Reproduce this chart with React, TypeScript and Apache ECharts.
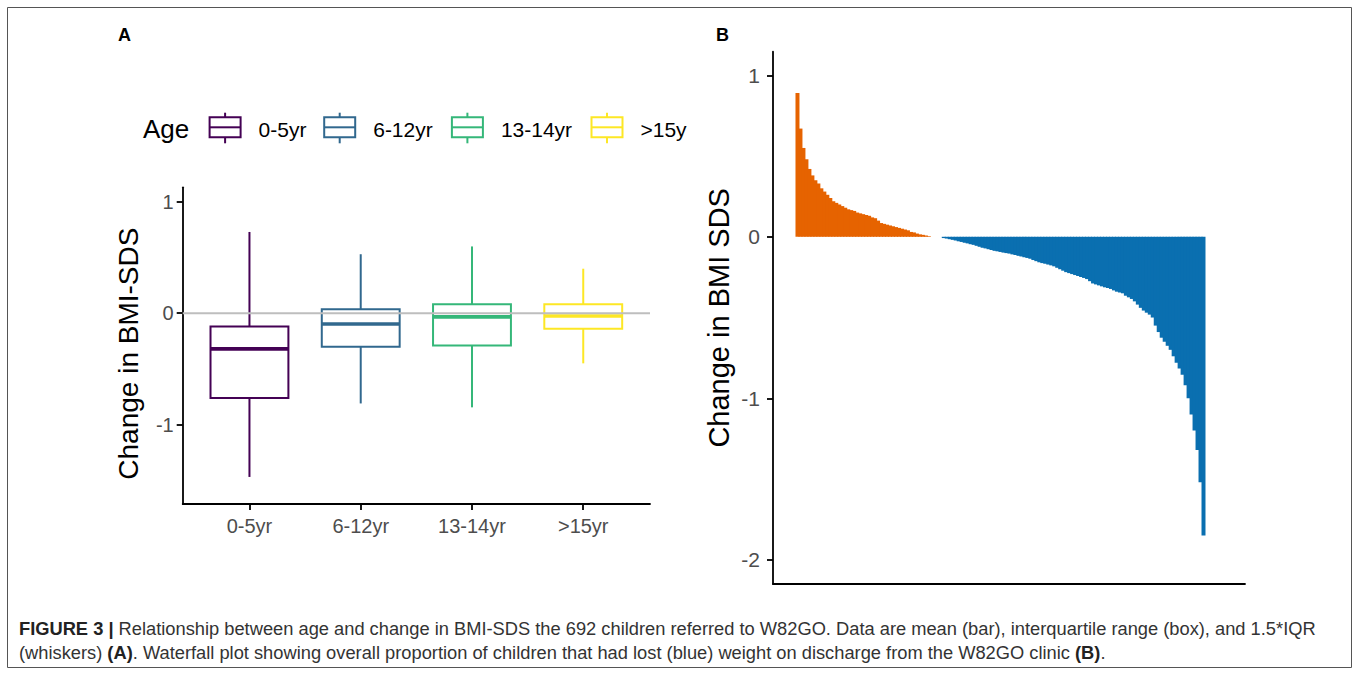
import React, { useEffect, useRef } from "react";
import * as echarts from "echarts";

// ---------- Panel A data ----------
const ageGroups = ["0-5yr", "6-12yr", "13-14yr", ">15yr"];
const legendLabels = ["0-5yr", "6-12yr", "13-14yr", ">15y"];
const ageColors = ["#440154", "#31688E", "#35B779", "#FDE725"];
// [lower whisker, Q1, median, Q3, upper whisker]
const stats0to5 = [-1.47, -0.76, -0.32, -0.12, 0.73];
const stats6to12 = [-0.81, -0.3, -0.096, 0.035, 0.53];
const stats13to14 = [-0.845, -0.29, -0.033, 0.08, 0.6];
const stats15plus = [-0.45, -0.14, -0.025, 0.08, 0.4];
const boxStats = [stats0to5, stats6to12, stats13to14, stats15plus];
const panelATicks = [-1, 0, 1];

// ---------- Panel B data (sorted change in BMI SDS) ----------
const gainedValues = [
  0.89, 0.67, 0.55, 0.48, 0.42, 0.38, 0.35, 0.33, 0.3, 0.28,
  0.26, 0.24, 0.22, 0.21, 0.2, 0.19, 0.18, 0.17, 0.165, 0.16,
  0.15, 0.145, 0.14, 0.135, 0.13, 0.12, 0.115, 0.1, 0.085, 0.08,
  0.075, 0.07, 0.065, 0.06, 0.055, 0.05, 0.045, 0.04, 0.03, 0.027,
  0.02, 0.015, 0.012, 0.008, 0.004,
];
const unchangedValues = [0, 0, 0, 0];
const lostValues = [
  -0.008, -0.011, -0.015, -0.019, -0.023, -0.028, -0.032, -0.037, -0.041, -0.046,
  -0.05, -0.056, -0.062, -0.068, -0.072, -0.077, -0.082, -0.087, -0.09, -0.094,
  -0.098, -0.101, -0.104, -0.109, -0.113, -0.118, -0.122, -0.126, -0.131, -0.136,
  -0.144, -0.151, -0.158, -0.163, -0.167, -0.172, -0.177, -0.183, -0.192, -0.201,
  -0.21, -0.219, -0.225, -0.231, -0.237, -0.243, -0.249, -0.255, -0.262, -0.275,
  -0.289, -0.295, -0.301, -0.307, -0.313, -0.317, -0.323, -0.332, -0.34, -0.345,
  -0.35, -0.365, -0.375, -0.385, -0.4, -0.42, -0.44, -0.457, -0.47, -0.482,
  -0.5, -0.55, -0.59, -0.625, -0.65, -0.675, -0.7, -0.74, -0.78, -0.815,
  -0.855, -0.92, -1.0, -1.1, -1.2, -1.32, -1.52, -1.85,
];
const panelBTicks = [-2, -1, 0, 1];
const gainedColor = "#E66300";
const lostColor = "#0A6FB0";

const FONT = "'Liberation Sans', Arial, Helvetica, sans-serif";

// layout constants (pixels)
const legendKeyX = [209.6, 324.2, 451.9, 591.5];

export default function App() {
  const ref = useRef<HTMLDivElement>(null);

  useEffect(() => {
    if (!ref.current) return;
    const chart = echarts.init(ref.current, undefined, { renderer: "svg" });

    const boxSeries = boxStats.map((s, gi) => ({
      type: "custom",
      name: ageGroups[gi],
      xAxisIndex: 0,
      yAxisIndex: 0,
      z: 2,
      data: [[gi + 1, ...s]],
      renderItem: (params: any, api: any) => {
        const x = api.value(0);
        const lo = api.value(1), q1 = api.value(2), med = api.value(3), q3 = api.value(4), hi = api.value(5);
        const half = 0.35;
        const c = api.coord([x, 0]);
        const pLo = api.coord([x, lo]);
        const pHi = api.coord([x, hi]);
        const tl = api.coord([x - half, q3]);
        const br = api.coord([x + half, q1]);
        const pm = api.coord([x, med]);
        const color = ageColors[gi];
        return {
          type: "group",
          children: [
            { type: "line", shape: { x1: c[0], y1: pHi[1], x2: c[0], y2: tl[1] }, style: { stroke: color, lineWidth: 2 } },
            { type: "line", shape: { x1: c[0], y1: br[1], x2: c[0], y2: pLo[1] }, style: { stroke: color, lineWidth: 2 } },
            { type: "rect", shape: { x: tl[0], y: tl[1], width: br[0] - tl[0], height: br[1] - tl[1] }, style: { fill: "none", stroke: color, lineWidth: 2 } },
            { type: "line", shape: { x1: tl[0], y1: pm[1], x2: br[0], y2: pm[1] }, style: { stroke: color, lineWidth: 3.6 } },
          ],
        };
      },
    }));

    // each bar is widened by 1px so neighbouring bars overlap and no seams show
    const barRender = (color: string) => (params: any, api: any) => {
      const i = api.value(0);
      const v = api.value(1);
      const p0 = api.coord([i - 0.5, 0]);
      const p1 = api.coord([i + 0.5, v]);
      return {
        type: "rect",
        shape: {
          x: p0[0] - 0.5,
          y: Math.min(p0[1], p1[1]),
          width: p1[0] - p0[0] + 1,
          height: Math.max(Math.abs(p1[1] - p0[1]), 0.6),
        },
        style: { fill: color },
      };
    };
    const nG = gainedValues.length;
    const nU = unchangedValues.length;

    const legendGraphics: any[] = [];
    legendGraphics.push({
      type: "text", x: 143, y: 129,
      style: { text: "Age", fontSize: 26, fontFamily: FONT, fill: "#000", verticalAlign: "middle", align: "left" },
    });
    legendLabels.forEach((lab, i) => {
      const kx = legendKeyX[i];
      const col = ageColors[i];
      legendGraphics.push({
        type: "group",
        children: [
          { type: "line", shape: { x1: kx + 15.5, y1: 112.7, x2: kx + 15.5, y2: 117.3 }, style: { stroke: col, lineWidth: 2 } },
          { type: "line", shape: { x1: kx + 15.5, y1: 137.3, x2: kx + 15.5, y2: 143.3 }, style: { stroke: col, lineWidth: 2 } },
          { type: "rect", shape: { x: kx, y: 117.3, width: 31, height: 20 }, style: { fill: "none", stroke: col, lineWidth: 2 } },
          { type: "line", shape: { x1: kx, y1: 127.3, x2: kx + 31, y2: 127.3 }, style: { stroke: col, lineWidth: 2 } },
          { type: "text", x: kx + 49, y: 129, style: { text: lab, fontSize: 21, fontFamily: FONT, fill: "#000", verticalAlign: "middle", align: "left" } },
        ],
      });
    });

    const axisLineStyle = { color: "#000", width: 1.8 };

    const option: any = {
      animation: false,
      backgroundColor: "#fff",
      textStyle: { fontFamily: FONT },
      grid: [
        { left: 182.7, top: 187.3, width: 467.3, height: 316.7 },
        { left: 773, top: 51.7, width: 472, height: 532.3 },
      ],
      xAxis: [
        {
          gridIndex: 0, type: "value", min: 0.4, max: 4.6,
          axisLine: { show: true, onZero: false, lineStyle: axisLineStyle },
          axisTick: { show: true, customValues: [1, 2, 3, 4], length: 6, lineStyle: axisLineStyle },
          axisLabel: {
            customValues: [1, 2, 3, 4], formatter: (v: number) => ageGroups[Math.round(v) - 1] || "",
            color: "#4D4D4D", fontSize: 20, margin: 12, fontFamily: FONT,
          },
          splitLine: { show: false },
        },
        {
          gridIndex: 1, type: "value", min: -8.2, max: 149.9,
          axisLine: { show: true, onZero: false, lineStyle: axisLineStyle },
          axisTick: { show: false }, axisLabel: { show: false }, splitLine: { show: false },
        },
      ],
      yAxis: [
        {
          gridIndex: 0, type: "value", min: -1.713, max: 1.131,
          name: "Change in BMI-SDS", nameLocation: "middle", nameGap: 40,
          nameTextStyle: { fontSize: 28, color: "#000", fontFamily: FONT, padding: [0, 16, 0, 0] },
          axisLine: { show: true, onZero: false, lineStyle: axisLineStyle },
          axisTick: { show: true, customValues: panelATicks, length: 6, lineStyle: axisLineStyle },
          axisLabel: { customValues: panelATicks, color: "#4D4D4D", fontSize: 20, margin: 9, fontFamily: FONT },
          splitLine: { show: false },
        },
        {
          gridIndex: 1, type: "value", min: -2.15, max: 1.146,
          name: "Change in BMI SDS", nameLocation: "middle", nameGap: 40,
          nameTextStyle: { fontSize: 29, color: "#000", fontFamily: FONT },
          axisLine: { show: true, onZero: false, lineStyle: axisLineStyle },
          axisTick: { show: true, customValues: panelBTicks, length: 6, lineStyle: axisLineStyle },
          axisLabel: { customValues: panelBTicks, color: "#4D4D4D", fontSize: 21, margin: 13, fontFamily: FONT },
          splitLine: { show: false },
        },
      ],
      series: [
        ...boxSeries,
        {
          type: "line", name: "zero", xAxisIndex: 0, yAxisIndex: 0, z: 5,
          symbol: "none", silent: true,
          data: [[0.4, 0], [4.6, 0]],
          lineStyle: { color: "#BEBEBE", width: 2 },
        },
        {
          type: "custom", name: "Gained", xAxisIndex: 1, yAxisIndex: 1,
          data: gainedValues.map((v, i) => [i, v]),
          renderItem: barRender(gainedColor),
        },
        {
          type: "custom", name: "Unchanged", xAxisIndex: 1, yAxisIndex: 1,
          data: unchangedValues.map((v, i) => [nG + i, v]),
          renderItem: (params: any, api: any) => null,
        },
        {
          type: "custom", name: "Lost", xAxisIndex: 1, yAxisIndex: 1,
          data: lostValues.map((v, i) => [nG + nU + i, v]),
          renderItem: barRender(lostColor),
        },
      ],
      graphic: [
        { type: "rect", shape: { x: 7.5, y: 7.5, width: 1344, height: 660 }, style: { fill: "none", stroke: "#555", lineWidth: 1 }, silent: true },
        { type: "text", x: 118, y: 35, style: { text: "A", fontSize: 18, fontWeight: "bold", fontFamily: FONT, fill: "#000", verticalAlign: "middle" } },
        { type: "text", x: 716, y: 35, style: { text: "B", fontSize: 18, fontWeight: "bold", fontFamily: FONT, fill: "#000", verticalAlign: "middle" } },
        ...legendGraphics,
        {
          type: "text", x: 19, y: 616,
          style: {
            text:
              "{b|FIGURE 3 |} Relationship between age and change in BMI-SDS the 692 children referred to W82GO. Data are mean (bar), interquartile range (box), and 1.5*IQR\n(whiskers) {b|(A)}. Waterfall plot showing overall proportion of children that had lost (blue) weight on discharge from the W82GO clinic {b|(B)}.",
            fontSize: 18.3, lineHeight: 24, fontFamily: FONT, fill: "#333", verticalAlign: "top", align: "left",
            rich: { b: { fontWeight: "bold", fontSize: 18.3, lineHeight: 24, fontFamily: FONT, fill: "#222" } },
          },
        },
      ],
    };
    chart.setOption(option);
    return () => chart.dispose();
  }, []);

  return (
    <div
      ref={ref}
      style={{ position: "absolute", left: 0, top: 0, width: 1358, height: 673, background: "#fff" }}
    />
  );
}
